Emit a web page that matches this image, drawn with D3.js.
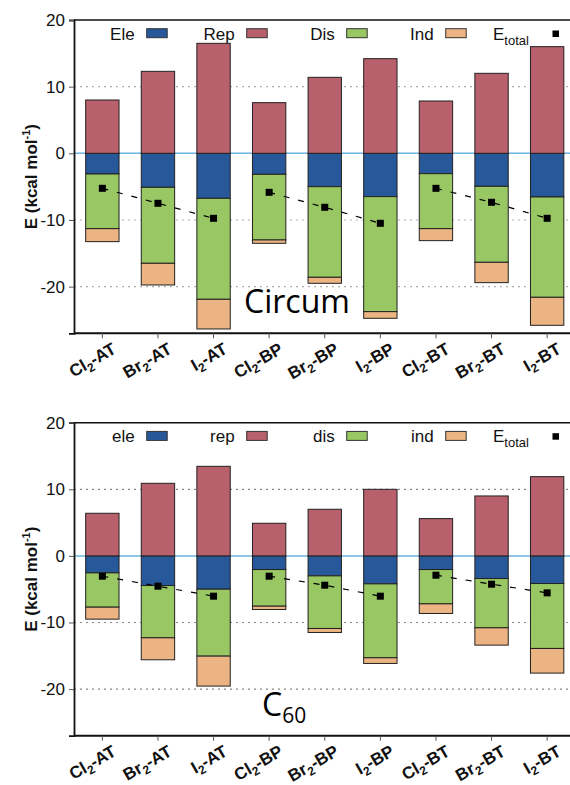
<!DOCTYPE html>
<html>
<head>
<meta charset="utf-8">
<script src="https://cdn.jsdelivr.net/npm/d3@7"></script>
<style>
  body { margin: 0; background: #fff; }
  svg { display: block; font-family: "Liberation Sans", Arial, sans-serif; }
</style>
</head>
<body>
<div id="chart"></div>
<script>
// Categories (the "2" is drawn as a subscript)
const categories = ["Cl2-AT", "Br2-AT", "I2-AT", "Cl2-BP", "Br2-BP", "I2-BP", "Cl2-BT", "Br2-BT", "I2-BT"]
const yTicks = [-20, -10, 0, 10, 20]

// Circum panel (kcal/mol)
const circumEle = [-3.1, -5.1, -6.75, -3.15, -5.0, -6.5, -3.05, -4.95, -6.55]
const circumRep = [8.0, 12.3, 16.5, 7.6, 11.4, 14.2, 7.85, 12.0, 16.0]
const circumDis = [-8.2, -11.4, -15.15, -9.85, -13.6, -17.25, -8.25, -11.4, -15.05]
const circumInd = [-1.95, -3.25, -4.45, -0.5, -0.9, -1.0, -1.8, -3.05, -4.2]
const circumTotal = [-5.25, -7.5, -9.75, -5.85, -8.1, -10.5, -5.25, -7.35, -9.75]

// C60 panel (kcal/mol)
const c60Ele = [-2.55, -4.45, -5.0, -2.05, -3.0, -4.2, -2.05, -3.4, -4.15]
const c60Rep = [6.4, 10.9, 13.45, 4.9, 7.0, 10.0, 5.6, 9.0, 11.9]
const c60Dis = [-5.15, -7.85, -10.05, -5.5, -7.9, -11.1, -5.15, -7.4, -9.75]
const c60Ind = [-1.8, -3.3, -4.5, -0.5, -0.6, -0.85, -1.45, -2.6, -3.7]
const c60Total = [-3.05, -4.55, -6.05, -3.05, -4.4, -6.05, -2.9, -4.25, -5.55]

const KEYS = ["ele", "rep", "dis", "ind"]
const COLORS = { ele: "#27589a", rep: "#b8606b", dis: "#98c763", ind: "#ecb482" }

const WIDTH = 570
const HEIGHT = 785

const svg = d3.select("#chart").append("svg")
    .attr("width", WIDTH)
    .attr("height", HEIGHT)

// shared x scale (plot runs off the right edge like the original)
const x = d3.scaleBand()
    .domain(categories)
    .range([74, 575.5])
    .paddingInner(0.4)
    .paddingOuter(0.21)

function addSubLabel(textSel, str) {
    // "Cl2-AT" -> Cl, sub 2, -AT
    const i = str.indexOf("2")
    textSel.append("tspan").text(str.slice(0, i))
    textSel.append("tspan").attr("font-size", "12px").attr("dy", 4).text("2")
    textSel.append("tspan").attr("dy", -4).text(str.slice(i + 1))
}

function drawPanel(top, bottom, series, names, panelLabel, gridColor) {
    const y = d3.scaleLinear().domain([-27, 20]).range([bottom, top])
    const g = svg.append("g")

    const rows = categories.map((c, i) => ({
        cat: c,
        ele: series.ele[i], rep: series.rep[i], dis: series.dis[i], ind: series.ind[i],
        total: series.total[i]
    }))

    // grid lines
    g.selectAll(".grid")
        .data([10, -10, -20])
        .join("line")
        .attr("x1", x.range()[0]).attr("x2", WIDTH)
        .attr("y1", d => y(d)).attr("y2", d => y(d))
        .attr("stroke", gridColor)
        .attr("stroke-width", 1.2)
        .attr("stroke-dasharray", "2,4")

    // zero line
    g.append("line")
        .attr("x1", x.range()[0]).attr("x2", WIDTH)
        .attr("y1", y(0)).attr("y2", y(0))
        .attr("stroke", "#6db3e6")
        .attr("stroke-width", 1.5)

    // stacked bars
    const stack = d3.stack().keys(KEYS).offset(d3.stackOffsetDiverging)
    const layers = stack(rows)
    g.selectAll(".layer")
        .data(layers)
        .join("g")
        .attr("fill", d => COLORS[d.key])
        .selectAll("rect")
        .data(d => d)
        .join("rect")
        .attr("x", d => x(d.data.cat))
        .attr("width", x.bandwidth())
        .attr("y", d => y(d[1]))
        .attr("height", d => y(d[0]) - y(d[1]))
        .attr("stroke", "#222")
        .attr("stroke-width", 1)

    // dashed lines within each group (AT / BP / BT)
    const groups = d3.groups(rows, d => d.cat.split("-")[1])
    const line = d3.line()
        .x(d => x(d.cat) + x.bandwidth() / 2)
        .y(d => y(d.total))
    g.selectAll(".tline")
        .data(groups)
        .join("path")
        .attr("d", d => line(d[1]))
        .attr("fill", "none")
        .attr("stroke", "#000")
        .attr("stroke-width", 1.2)
        .attr("stroke-dasharray", "6,9")

    g.selectAll(".tmark")
        .data(rows)
        .join("rect")
        .attr("x", d => x(d.cat) + x.bandwidth() / 2 - 3.5)
        .attr("y", d => y(d.total) - 3.5)
        .attr("width", 7).attr("height", 7)
        .attr("fill", "#000")

    // frame: top line
    g.append("line")
        .attr("x1", x.range()[0]).attr("x2", WIDTH)
        .attr("y1", top).attr("y2", top)
        .attr("stroke", "#111").attr("stroke-width", 1.5)

    // y axis
    const yAxis = g.append("g")
        .attr("transform", `translate(${x.range()[0]},0)`)
        .call(d3.axisLeft(y).tickValues(yTicks).tickSize(5).tickPadding(4).tickFormat(d => String(d)))
    yAxis.select(".domain").attr("stroke", "#111").attr("stroke-width", 1.8)
    yAxis.selectAll(".tick line").attr("stroke", "#555")
    yAxis.selectAll(".tick text")
        .attr("font-size", "17px")
        .attr("fill", "#111")
        .style("font-family", "Liberation Sans, Arial, sans-serif")

    // x axis
    const xAxis = g.append("g")
        .attr("transform", `translate(0,${bottom})`)
        .call(d3.axisBottom(x).tickSize(5).tickFormat(""))
    xAxis.select(".domain").attr("stroke", "#111").attr("stroke-width", 2)
        .attr("d", `M${x.range()[0]},0H${WIDTH}`)
    xAxis.selectAll(".tick line").attr("stroke", "#555")

    g.selectAll(".xlab")
        .data(categories)
        .join("text")
        .attr("transform", d => `translate(${x(d) + x.bandwidth() / 2 + 15},${bottom + 19}) rotate(-30)`)
        .attr("text-anchor", "end")
        .attr("font-size", "17px")
        .attr("font-weight", "bold")
        .attr("fill", "#111")
        .each(function (d) { addSubLabel(d3.select(this), d) })

    // y label
    const yl = g.append("text")
        .attr("transform", `translate(37,${(top + bottom) / 2}) rotate(-90)`)
        .attr("text-anchor", "middle")
        .attr("font-size", "17px")
        .attr("font-weight", "bold")
        .attr("fill", "#111")
    yl.append("tspan").text("E (kcal mol")
    yl.append("tspan").attr("font-size", "11px").attr("dy", -7).text("-1")
    yl.append("tspan").attr("dy", 7).text(")")

    // legend
    const swX = [146.7, 246.7, 346.7, 445.7]
    const leg = g.append("g")
    KEYS.forEach((k, i) => {
        leg.append("rect")
            .attr("x", swX[i]).attr("y", top + 8.7)
            .attr("width", 20.5).attr("height", 9)
            .attr("fill", COLORS[k]).attr("stroke", "#333").attr("stroke-width", 1)
        leg.append("text")
            .attr("x", swX[i] - 12).attr("y", top + 19.5)
            .attr("text-anchor", "end")
            .attr("font-size", "17px")
            .attr("fill", "#111")
            .text(names[i])
    })
    const et = leg.append("text")
        .attr("x", 493).attr("y", top + 19.5)
        .attr("font-size", "17px")
        .attr("fill", "#111")
    et.append("tspan").text("E")
    et.append("tspan").attr("font-size", "13px").attr("dy", 5).text("total")
    leg.append("rect")
        .attr("x", 552.5).attr("y", top + 10.5)
        .attr("width", 6.5).attr("height", 6.5)
        .attr("fill", "#000")

    // panel label
    const pl = g.append("text")
        .attr("x", panelLabel.x).attr("y", bottom - 20)
        .attr("font-size", "32px")
        .attr("fill", "#000")
        .style("font-family", "Open Sans, Noto Sans, sans-serif")
    pl.append("tspan").text(panelLabel.main)
    if (panelLabel.sub) {
        pl.append("tspan").attr("font-size", "21px").attr("dy", 7).text(panelLabel.sub)
    }
}

drawPanel(20, 333.3,
    { ele: circumEle, rep: circumRep, dis: circumDis, ind: circumInd, total: circumTotal },
    ["Ele", "Rep", "Dis", "Ind"],
    { x: 244, main: "Circum" }, "#b0b0b0")

drawPanel(422.7, 735.7,
    { ele: c60Ele, rep: c60Rep, dis: c60Dis, ind: c60Ind, total: c60Total },
    ["ele", "rep", "dis", "ind"],
    { x: 262, main: "C", sub: "60" }, "#888")
</script>
</body>
</html>
